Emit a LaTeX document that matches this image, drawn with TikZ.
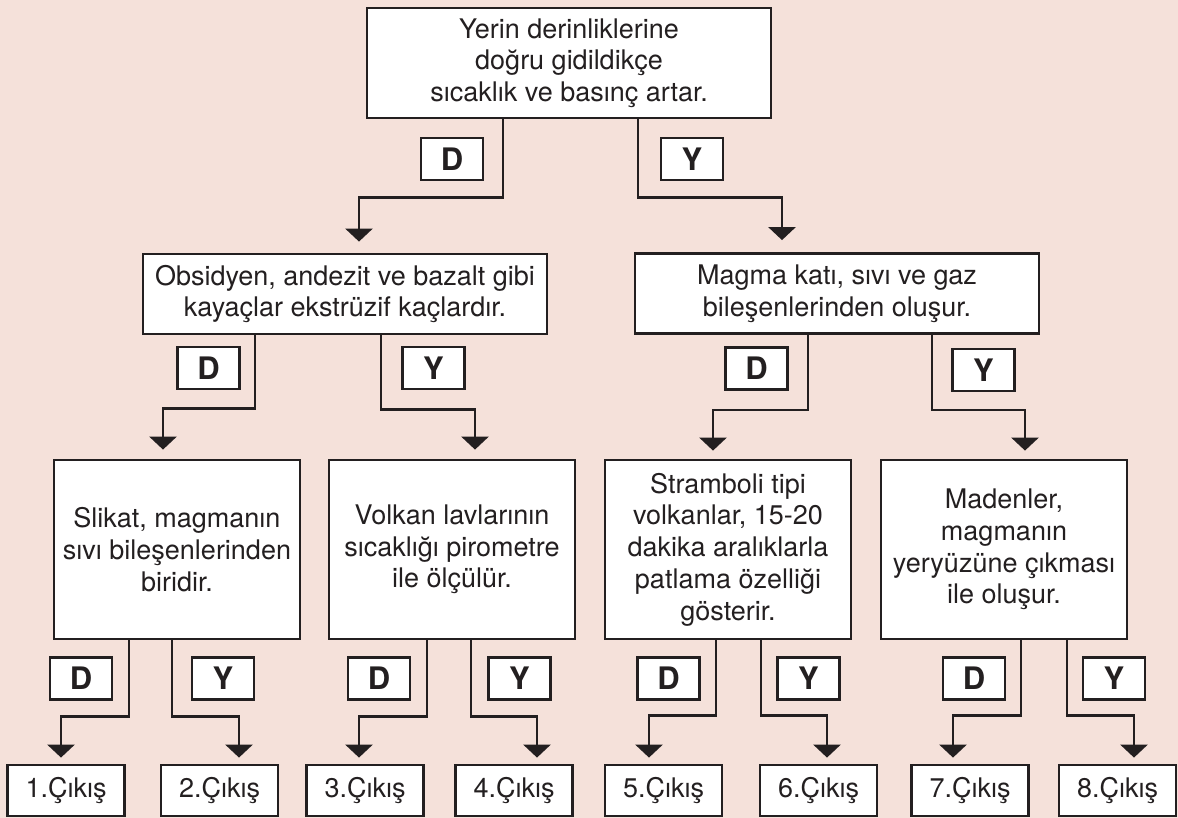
\documentclass[tikz,border=0pt]{standalone}
\usepackage{fontspec}
\setmainfont{TeX Gyre Heros}
\usetikzlibrary{arrows.meta}
\definecolor{bg}{HTML}{F5E1DA}
\definecolor{ink}{HTML}{231F20}
\begin{document}
\begin{tikzpicture}[x=1pt,y=-1pt,
  box/.style={draw=ink,line width=2.8pt,fill=white,text=ink,inner sep=0pt,align=center,font=\fontsize{27}{31.7}\selectfont},
  midbox/.style={box,minimum width=404pt,minimum height=80pt},
  tallbox/.style={box,minimum width=246pt,minimum height=179pt},
  exitbox/.style={box,minimum width=117pt,minimum height=51pt},
  lab/.style={draw=ink,line width=2.6pt,fill=white,text=ink,inner sep=0pt,minimum width=62pt,minimum height=42pt,font=\fontsize{31}{31}\selectfont\bfseries},
  conn/.style={draw=ink,line width=2.8pt,-{Triangle[width=27pt,length=13pt]}},
]
\useasboundingbox (0,0) rectangle (1178,818);
\fill[bg] (0,0) rectangle (1178,818);

% nodes
\node[box,minimum width=404pt,minimum height=110pt] (top) at (569,63) {Yerin derinliklerine\\doğru gidildikçe\\sıcaklık ve basınç artar.};
\node[midbox] (l2a) at (345,294) {Obsidyen, andezit ve bazalt gibi\\kayaçlar ekstrüzif kaçlardır.};
\node[midbox] (l2b) at (837,293.5) {Magma katı, sıvı ve gaz\\bileşenlerinden oluşur.};
\node[tallbox] (l3a) at (177,549.5) {Slikat, magmanın\\sıvı bileşenlerinden\\biridir.};
\node[tallbox] (l3b) at (452,549.5) {Volkan lavlarının\\sıcaklığı pirometre\\ile ölçülür.};
\node[tallbox] (l3c) at (728,549.5) {Stramboli tipi\\volkanlar, 15-20\\dakika aralıklarla\\patlama özelliği\\gösterir.};
\node[tallbox] (l3d) at (1004,549.5) {Madenler,\\magmanın\\yeryüzüne çıkması\\ile oluşur.};
\node[exitbox] (e1) at (66,790.5) {1.Çıkış};
\node[exitbox] (e2) at (219.5,790.5) {2.Çıkış};
\node[exitbox] (e3) at (365,790.5) {3.Çıkış};
\node[exitbox] (e4) at (514,790.5) {4.Çıkış};
\node[exitbox] (e5) at (663.5,790.5) {5.Çıkış};
\node[exitbox] (e6) at (818.5,790.5) {6.Çıkış};
\node[exitbox] (e7) at (970,790.5) {7.Çıkış};
\node[exitbox] (e8) at (1117.5,790.5) {8.Çıkış};

% labels
\node[lab] (d0) at (452,159) {D};
\node[lab] (y0) at (692,159) {Y};
\node[lab] (d1) at (208.5,368) {D};
\node[lab] (y1) at (433.5,368) {Y};
\node[lab] (d2) at (756.5,368.5) {D};
\node[lab] (y2) at (983.5,370) {Y};
\node[lab] (d3) at (81,678.5) {D};
\node[lab] (y3) at (223,678.5) {Y};
\node[lab] (d4) at (379,678.5) {D};
\node[lab] (y4) at (519.5,678.5) {Y};
\node[lab] (d5) at (668.5,678.5) {D};
\node[lab] (y5) at (808.5,678.5) {Y};
\node[lab] (d6) at (974,678.5) {D};
\node[lab] (y6) at (1114,678.5) {Y};

% connectors
\draw[conn] ([xshift=-66pt]top.south) -- ++(0,78) -| ([xshift=14pt,yshift=11pt]l2a.north);
\draw[conn] ([xshift=69pt]top.south) -- ++(0,78) -| ([xshift=-55pt,yshift=12pt]l2b.north);

\draw[conn] ([xshift=-90pt]l2a.south) -- ++(0,73) -| ([xshift=-14pt,yshift=9pt]l3a.north);
\draw[conn] ([xshift=36pt]l2a.south) -- ++(0,74) -| ([xshift=23pt,yshift=9pt]l3b.north);
\draw[conn] ([xshift=-29pt]l2b.south) -- ++(0,75) -| ([xshift=-15pt,yshift=8pt]l3c.north);
\draw[conn] ([xshift=95pt]l2b.south) -- ++(0,75) -| ([xshift=21pt,yshift=8pt]l3d.north);

\draw[conn] ([xshift=-48pt]l3a.south) -- ++(0,76) -| ([xshift=-5pt,yshift=6pt]e1.north);
\draw[conn] ([xshift=-5pt]l3a.south) -- ++(0,76) -| ([xshift=19.5pt,yshift=6pt]e2.north);
\draw[conn] ([xshift=-25pt]l3b.south) -- ++(0,76) -| ([xshift=-6pt,yshift=6pt]e3.north);
\draw[conn] ([xshift=19pt]l3b.south) -- ++(0,76) -| ([xshift=23pt,yshift=6pt]e4.north);
\draw[conn] ([xshift=-12pt]l3c.south) -- ++(0,75) -| ([xshift=-14.5pt,yshift=6pt]e5.north);
\draw[conn] ([xshift=33pt]l3c.south) -- ++(0,75) -| ([xshift=8.5pt,yshift=6pt]e6.north);
\draw[conn] ([xshift=17pt]l3d.south) -- ++(0,75) -| ([xshift=-17pt,yshift=6pt]e7.north);
\draw[conn] ([xshift=63pt]l3d.south) -- ++(0,75) -| ([xshift=16.5pt,yshift=6pt]e8.north);
\end{tikzpicture}
\end{document}
